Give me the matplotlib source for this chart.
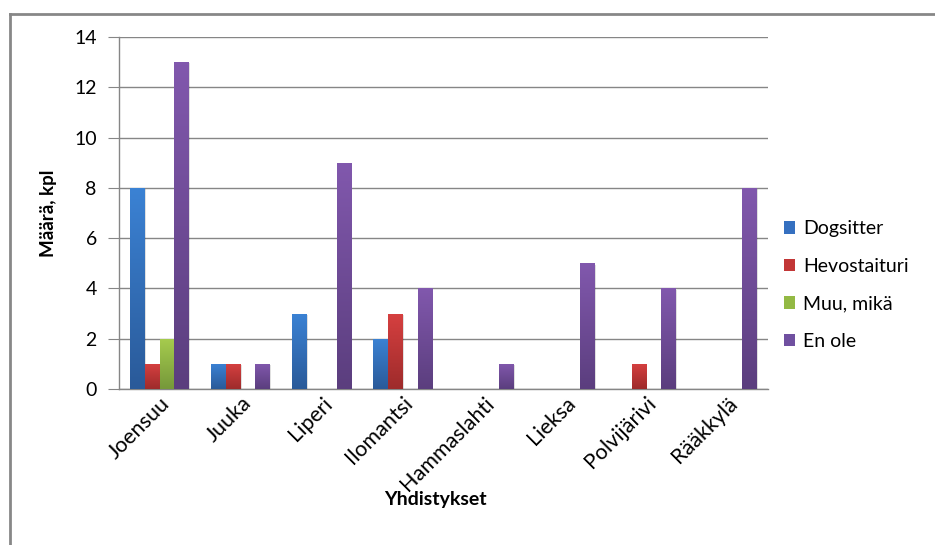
import numpy as np
import matplotlib
matplotlib.use("Agg")
import matplotlib.pyplot as plt
from matplotlib.patches import Patch
from matplotlib.lines import Line2D
from matplotlib.colors import to_rgb

plt.rcParams['font.family'] = ['Lato', 'DejaVu Sans']

# Data
yhdistykset = ['Joensuu', 'Juuka', 'Liperi', 'Ilomantsi', 'Hammaslahti',
               'Lieksa', 'Polvijärivi', 'Rääkkylä']
sarjat = ['Dogsitter', 'Hevostaituri', 'Muu, mikä', 'En ole']
dogsitter = [8, 1, 3, 2, 0, 0, 0, 0]
hevostaituri = [1, 1, 0, 3, 0, 0, 1, 0]
muu = [2, 0, 0, 0, 0, 0, 0, 0]
en_ole = [13, 1, 9, 4, 1, 5, 4, 8]

# (top colour, bottom colour, legend colour)
colors = [
    ('#3b82d4', '#2a5a99', '#3570c0'),
    ('#d64040', '#9e2b2b', '#c23636'),
    ('#a6cc4e', '#76983a', '#93b944'),
    ('#8158ad', '#5b3e7e', '#7050a0'),
]

fig = plt.figure(figsize=(9.35, 5.45), dpi=100)
ax = fig.add_axes([119 / 935, 1 - 389 / 545, (768 - 119) / 935, (389 - 37) / 545])

x = np.arange(len(yhdistykset))
w = 1 / 5.5
values = [dogsitter, hevostaituri, muu, en_ole]

for i, vals in enumerate(values):
    top, bot, _ = colors[i]
    grad = np.linspace(0, 1, 64)[:, None, None]
    img = (1 - grad) * np.array(to_rgb(bot)) + grad * np.array(to_rgb(top))
    bars = ax.bar(x + (i - 1.5) * w, vals, w, facecolor='none', edgecolor='none', zorder=3)
    for b in bars:
        h = b.get_height()
        if h <= 0:
            continue
        x0 = b.get_x()
        # soft shadow
        ax.add_patch(plt.Rectangle((x0 + 0.012, 0), w, h - 0.05, facecolor='#000000',
                                   alpha=0.12, edgecolor='none', zorder=2.5))
        im = ax.imshow(img, extent=(x0, x0 + w, 0, h), origin='lower',
                       aspect='auto', zorder=3, interpolation='bilinear')
        im.set_clip_path(b)

ax.set_xlim(-0.5, len(yhdistykset) - 0.5)
ax.set_ylim(0, 14)
ax.set_yticks(range(0, 15, 2))
ax.set_xticks(x)
ax.set_xticklabels(yhdistykset, rotation=45, ha='right', rotation_mode='anchor',
                   fontsize=15.5)
ax.tick_params(axis='x', length=0, pad=3)
ax.tick_params(axis='y', length=8, color='#868686', labelsize=14, pad=8)
ax.grid(axis='y', color='#868686', linewidth=1, zorder=0)
ax.set_axisbelow(True)
for s in ['top', 'right']:
    ax.spines[s].set_visible(False)
for s in ['left', 'bottom']:
    ax.spines[s].set_color('#868686')
    ax.spines[s].set_linewidth(1)

ax.set_ylabel('Määrä, kpl', fontsize=13.5, fontweight='bold', labelpad=12)
fig.text(435 / 935, 1 - 500 / 545, 'Yhdistykset', fontsize=14, fontweight='bold',
         ha='center', va='center')

handles = [Patch(facecolor=c[2], edgecolor='none') for c in colors]
fig.legend(handles, sarjat, loc='center left', bbox_to_anchor=(766 / 935, 1 - 285 / 545),
           frameon=False, fontsize=14, handlelength=0.6, handleheight=0.6,
           handletextpad=0.4, labelspacing=1.05)

# chart border
fig.add_artist(Line2D([10 / 935, 1], [1 - 14 / 545] * 2, color='#878787', lw=2))
fig.add_artist(Line2D([10 / 935] * 2, [0, 1 - 14 / 545], color='#878787', lw=2))

fig.savefig('out.png', dpi=100)
